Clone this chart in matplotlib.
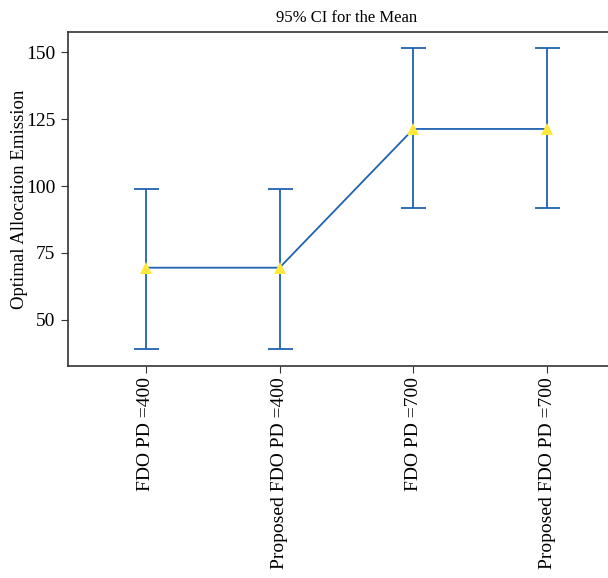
import matplotlib
matplotlib.use("Agg")
import matplotlib.pyplot as plt
import numpy as np

groups = ["FDO PD =400", "Proposed FDO PD =400", "FDO PD =700", "Proposed FDO PD =700"]
means = [69.5, 69.5, 121.3, 121.3]
ci_lower = [39.2, 39.2, 91.8, 91.8]
ci_upper = [98.9, 98.9, 151.5, 151.5]

plt.rcParams["font.family"] = ["Liberation Serif", "DejaVu Serif"]

fig = plt.figure(figsize=(6.08, 5.78), dpi=100)
ax = fig.add_axes([68 / 608, 1 - 366 / 578, (625 - 68) / 608, (366 - 32) / 578])

x = np.arange(len(groups))
m = np.array(means)
yerr = np.vstack([m - np.array(ci_lower), np.array(ci_upper) - m])

blue = "#1f62b0"
ax.errorbar(x, m, yerr=yerr, fmt="none", ecolor=blue, elinewidth=1.3,
            capsize=9, capthick=1.3, zorder=2)
ax.plot(x, m, color=blue, lw=1.3, zorder=3)
ax.plot(x, m, linestyle="none", marker="^", markersize=8, color="#ffe83a",
        markeredgewidth=0, zorder=4)

ax.set_xlim(-0.58, 3.58)
ax.set_ylim(32.8, 157.5)
ax.set_yticks([50, 75, 100, 125, 150])
ax.set_xticks(x)
ax.set_xticklabels(groups, rotation=90, va="top", ha="center")
ax.tick_params(axis="both", labelsize=14, color="#333333", length=5)
ax.tick_params(axis="x", pad=3)
ax.tick_params(axis="y", pad=4)
ax.set_ylabel("Optimal Allocation Emission", fontsize=13.5)
ax.yaxis.set_label_coords(-0.072, 0.5)
ax.set_title("95% CI for the Mean", fontsize=12, pad=7)
for s in ax.spines.values():
    s.set_color("#333333")
    s.set_linewidth(1.2)

fig.savefig("out.png", dpi=100)
